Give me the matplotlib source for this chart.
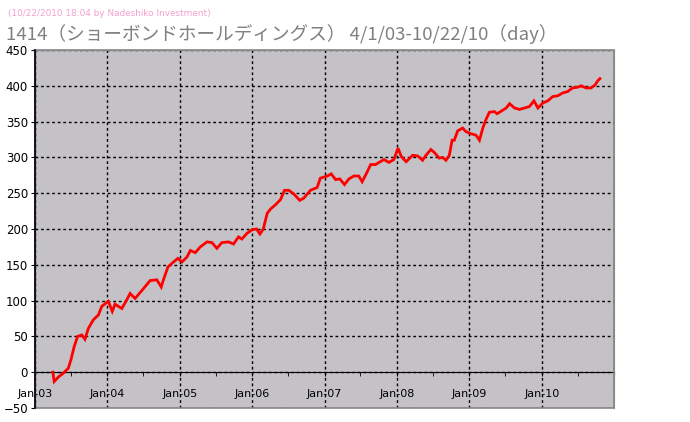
import numpy as np
import pandas as pd
import matplotlib
matplotlib.use("Agg")
import matplotlib.pyplot as plt
import matplotlib.dates as mdates
from matplotlib.patches import Rectangle

# price change since 4/1/03
dates = [
    "2003-04-01", "2003-04-08", "2003-04-28", "2003-05-23", "2003-06-18", "2003-07-01",
    "2003-07-18", "2003-08-04", "2003-08-25", "2003-09-10", "2003-09-27", "2003-10-22",
    "2003-11-17", "2003-12-04", "2004-01-06", "2004-01-26", "2004-02-09", "2004-03-14",
    "2004-04-08", "2004-04-25", "2004-05-20", "2004-06-23", "2004-08-04", "2004-09-07",
    "2004-09-29", "2004-10-10", "2004-11-02", "2004-11-22", "2004-12-22", "2005-01-12",
    "2005-02-06", "2005-02-23", "2005-03-20", "2005-04-14", "2005-05-18", "2005-06-12",
    "2005-07-07", "2005-08-01", "2005-09-04", "2005-09-29", "2005-10-24", "2005-11-10",
    "2005-12-06", "2006-01-01", "2006-01-23", "2006-02-09", "2006-02-26", "2006-03-18",
    "2006-04-04", "2006-04-29", "2006-05-24", "2006-06-13", "2006-07-05", "2006-07-30",
    "2006-08-29", "2006-09-18", "2006-10-22", "2006-11-25", "2006-12-11", "2007-01-15",
    "2007-02-04", "2007-02-26", "2007-03-19", "2007-04-12", "2007-05-04", "2007-05-29",
    "2007-06-23", "2007-07-10", "2007-08-05", "2007-08-22", "2007-09-16", "2007-10-03",
    "2007-10-28", "2007-11-22", "2007-12-17", "2008-01-07", "2008-01-24", "2008-02-17",
    "2008-03-21", "2008-04-15", "2008-05-10", "2008-05-27", "2008-06-21", "2008-07-08",
    "2008-08-02", "2008-08-19", "2008-09-05", "2008-09-22", "2008-10-06", "2008-10-17",
    "2008-11-03", "2008-11-28", "2008-12-15", "2009-01-10", "2009-02-04", "2009-02-21",
    "2009-03-10", "2009-03-26", "2009-04-12", "2009-05-07", "2009-05-21", "2009-06-19",
    "2009-07-06", "2009-07-23", "2009-08-17", "2009-09-11", "2009-10-06", "2009-10-31",
    "2009-11-23", "2009-12-13", "2010-01-07", "2010-02-01", "2010-02-26", "2010-03-23",
    "2010-04-17", "2010-05-12", "2010-06-06", "2010-07-01", "2010-07-19", "2010-08-13",
    "2010-09-07", "2010-09-27", "2010-10-11", "2010-10-22",
]
values = [
    0, -13, -7, -1.5, 5.5, 17,
    36, 50, 52, 46, 61, 73,
    80, 92, 99, 85, 95, 89,
    101, 110, 103, 114, 128, 129,
    119, 129, 147, 152, 159, 154,
    161, 170, 167, 175, 182, 181,
    173, 181, 182, 179, 189, 186,
    194, 199, 200, 193, 200, 222,
    228, 234, 241, 254, 254, 249,
    240, 243, 254, 258, 271, 274,
    277, 269, 270, 262, 270, 274,
    274, 266, 280, 290, 290, 293,
    297, 293, 297, 313, 301, 294,
    303, 302, 296, 303, 311, 307,
    299, 300, 296, 303, 324, 324,
    337, 341, 336, 333, 331, 324,
    341, 353, 363, 364, 361, 366,
    369, 375, 369, 367, 369, 371,
    379, 369, 376, 379, 385, 386,
    390, 392, 397, 398, 400, 397,
    397, 401, 407, 410,
]

stamp = "(10/22/2010 18:04 by Nadeshiko Investment)"
title = "1414（ショーボンドホールディングス） 4/1/03-10/22/10（day）"

x = pd.to_datetime(dates)

fig = plt.figure(figsize=(6.9, 4.22), dpi=100)
ax = fig.add_axes([35 / 690, 14 / 422, 579 / 690, 358 / 422])
ax.set_facecolor("#c4c2c6")

ax.plot(x, values, color="#ff0000", lw=2.0, solid_joinstyle="miter", zorder=3)

ax.set_xlim(pd.Timestamp("2003-01-01"), pd.Timestamp("2011-01-01"))
ax.set_ylim(-50, 450)
ax.set_yticks(np.arange(-50, 451, 50))


def jan_label(v, pos):
    d = mdates.num2date(v)
    return "" if d.year > 2010 else d.strftime("Jan-%y")


ax.xaxis.set_major_locator(mdates.YearLocator())
ax.xaxis.set_major_formatter(plt.FuncFormatter(jan_label))
ax.xaxis.set_minor_locator(mdates.MonthLocator(bymonth=7))

ax.grid(True, which="major", color="black", lw=1.0, linestyle=(0, (2, 2)))
ax.set_axisbelow(True)

for s in ["top", "right"]:
    ax.spines[s].set_color("#888888")
ax.spines["left"].set_color("black")
ax.spines["bottom"].set_position(("data", 0))
ax.spines["bottom"].set_color("black")
ax.add_patch(Rectangle((0, 0), 1, 1, transform=ax.transAxes, fill=False,
                       edgecolor="#888888", lw=1.2, zorder=4, clip_on=False))
ax.plot([0, 0], [0, 1], transform=ax.transAxes, color="black", lw=1.2,
        zorder=5, clip_on=False)

ax.tick_params(axis="x", which="both", direction="out", length=3, color="black",
               pad=9, labelsize=8)
ax.tick_params(axis="y", direction="out", length=3, color="black", pad=2,
               labelsize=8.5)

fig.text(8 / 690, 1 - 14 / 422, stamp, color="#f4a0d0", fontsize=6.4,
         va="center", ha="left", family=["DejaVu Sans"])
fig.text(6 / 690, 1 - 34 / 422, title, color="#808080", fontsize=13.4,
         va="center", ha="left", family=["Noto Sans CJK JP", "DejaVu Sans"])

fig.savefig("out.png", dpi=100)
